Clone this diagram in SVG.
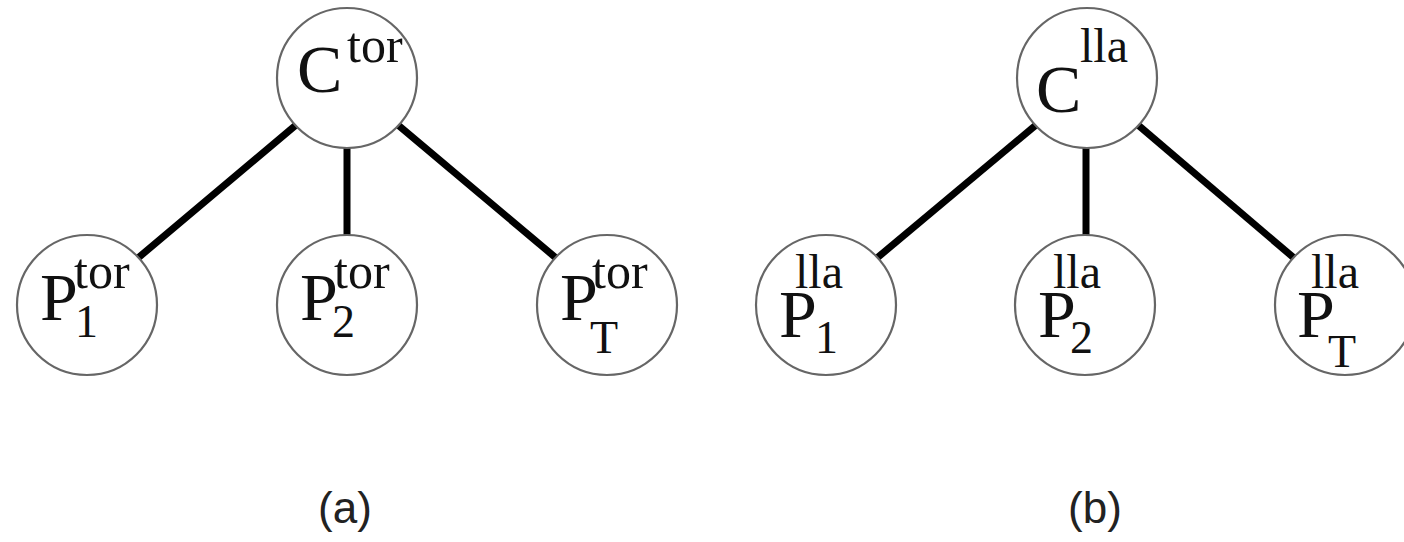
<svg xmlns="http://www.w3.org/2000/svg" width="1404" height="542" viewBox="0 0 1404 542">
<style>
.node{fill:#fff;stroke:#666;stroke-width:2.2}
.edge{stroke:#000;stroke-width:7;stroke-linecap:butt}
.m{font-family:"Liberation Serif","Times New Roman",serif;fill:#111;font-size:68px}
.sup{font-size:50px}
.sup2{font-size:48px}
.sub{font-size:46px}
.cap{font-family:"Liberation Sans",Arial,sans-serif;font-size:44px;fill:#222}
</style>
<rect width="1404" height="542" fill="#fff"/>
<g id="connectors">
<line class="edge" x1="296" y1="125" x2="138" y2="258"/>
<line class="edge" x1="347" y1="146" x2="347" y2="237"/>
<line class="edge" x1="398" y1="125" x2="556" y2="258"/>
<line class="edge" x1="1036" y1="125" x2="877" y2="258"/>
<line class="edge" x1="1086" y1="146" x2="1086" y2="237"/>
<line class="edge" x1="1138" y1="125" x2="1294" y2="258"/>
</g>
<g id="a-C">
<circle class="node" cx="347" cy="78" r="70"/>
<text class="m" x="297" y="92">C<tspan class="sup" x="347" y="62">tor</tspan></text>
</g>
<g id="a-P1">
<circle class="node" cx="87" cy="305" r="70"/>
<text class="m" x="40" y="320">P<tspan class="sup" x="74" y="288">tor</tspan><tspan class="sub" x="75" y="337">1</tspan></text>
</g>
<g id="a-P2">
<circle class="node" cx="347" cy="305" r="70"/>
<text class="m" x="300" y="320">P<tspan class="sup" x="334" y="288">tor</tspan><tspan class="sub" x="332" y="337">2</tspan></text>
</g>
<g id="a-PT">
<circle class="node" cx="607" cy="305" r="70"/>
<text class="m" x="560" y="320">P<tspan class="sup" x="592" y="288">tor</tspan><tspan class="sub" x="590" y="353">T</tspan></text>
</g>
<g id="b-C">
<circle class="node" cx="1087" cy="78" r="70"/>
<text class="m" x="1036" y="112">C<tspan class="sup2" x="1080" y="62">lla</tspan></text>
</g>
<g id="b-P1">
<circle class="node" cx="826" cy="305" r="70"/>
<text class="m" x="779" y="337">P<tspan class="sup2" x="795" y="288">lla</tspan><tspan class="sub" x="815" y="353">1</tspan></text>
</g>
<g id="b-P2">
<circle class="node" cx="1085" cy="305" r="70"/>
<text class="m" x="1038" y="337">P<tspan class="sup2" x="1053" y="288">lla</tspan><tspan class="sub" x="1070" y="353">2</tspan></text>
</g>
<g id="b-PT">
<circle class="node" cx="1345" cy="305" r="70"/>
<text class="m" x="1297" y="337">P<tspan class="sup2" x="1311" y="288">lla</tspan><tspan class="sub" x="1328" y="367">T</tspan></text>
</g>
<text class="cap" x="345" y="523" text-anchor="middle">(a)</text>
<text class="cap" x="1095" y="523" text-anchor="middle">(b)</text>
</svg>
